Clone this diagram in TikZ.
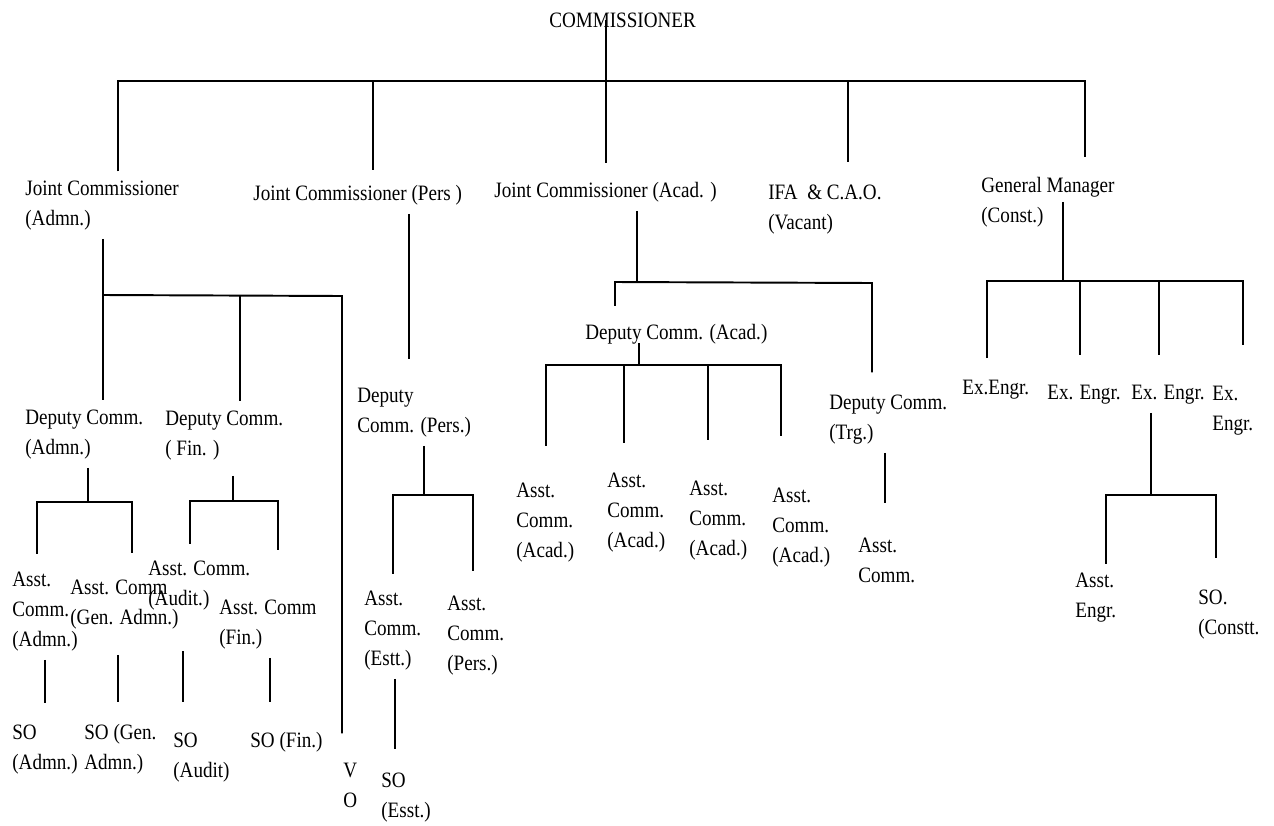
\documentclass[tikz,border=0pt]{standalone}
\usepackage{fontspec}
\setmainfont{Liberation Serif}[FakeStretch=0.87]
\usepackage{tikz}

\begin{document}
\begin{tikzpicture}[x=0.02cm,y=-0.02cm,
  post/.style={anchor=base west,align=left,inner xsep=0pt,inner ysep=5pt,font=\fontsize{12.5}{17}\selectfont},
  link/.style={line width=1.1pt}]
\useasboundingbox (0,0) rectangle (1274,825);

% posts (placed at the baseline of their last line)
\node[post] (comm) at (549,27) {COMMISSIONER};
\node[post] (jcadmn) at (25,225) {Joint Commissioner\\(Admn.)};
\node[post] (jcpers) at (253,200) {Joint Commissioner (Pers )};
\node[post] (jcacad) at (494,197) {Joint Commissioner (Acad. )};
\node[post] (ifa) at (768,229) {IFA\ \ \& C.A.O.\\(Vacant)};
\node[post] (gm) at (981,222) {General Manager\\(Const.)};

\node[post] (dcadmn) at (25,454) {Deputy Comm.\\(Admn.)};
\node[post] (dcfin) at (165,455) {Deputy Comm.\\( Fin. )};
\node[post] (dcpers) at (357,432) {Deputy\\Comm. (Pers.)};
\node[post] (dcacad) at (585,339) {Deputy Comm. (Acad.)};
\node[post] (dctrg) at (829,439) {Deputy Comm.\\(Trg.)};
\node[post] (ee1) at (962,394) {Ex.Engr.};
\node[post] (ee2) at (1047,399) {Ex. Engr.};
\node[post] (ee3) at (1131,399) {Ex. Engr.};
\node[post] (ee4) at (1212,430) {Ex.\\Engr.};

\node[post] (acadmn) at (12,646) {Asst.\\Comm.\\(Admn.)};
\node[post] (acgen) at (70,624) {Asst. Comm\\(Gen. Admn.)};
\node[post] (acaudit) at (148,605) {Asst. Comm.\\(Audit.)};
\node[post] (acfin) at (219,644) {Asst. Comm\\(Fin.)};
\node[post] (acestt) at (364,665) {Asst.\\Comm.\\(Estt.)};
\node[post] (acpers) at (447,670) {Asst.\\Comm.\\(Pers.)};
\node[post] (acacad1) at (516,557) {Asst.\\Comm.\\(Acad.)};
\node[post] (acacad2) at (607,547) {Asst.\\Comm.\\(Acad.)};
\node[post] (acacad3) at (689,555) {Asst.\\Comm.\\(Acad.)};
\node[post] (acacad4) at (772,562) {Asst.\\Comm.\\(Acad.)};
\node[post] (actrg) at (858,582) {Asst.\\Comm.};
\node[post] (ae) at (1075,617) {Asst.\\Engr.};
\node[post] (soconst) at (1198,634) {SO.\\(Constt.};

\node[post] (soadmn) at (12,769) {SO\\(Admn.)};
\node[post] (sogen) at (84,769) {SO (Gen.\\Admn.)};
\node[post] (soaudit) at (173,777) {SO\\(Audit)};
\node[post] (sofin) at (250,747) {SO (Fin.)};
\node[post] (vo) at (343,807) {V\\O};
\node[post] (soestt) at (381,817) {SO\\(Esst.)};

% bars and spines
\coordinate (b0) at (606,81);
\coordinate (b1) at (118,81);
\coordinate (b2) at (373,81);
\coordinate (b4) at (848,81);
\coordinate (b5) at (1085,81);
\coordinate (b6) at (103,295);
\coordinate (b7) at (240,296);
\coordinate (b8) at (342,296);
\coordinate (b9) at (88,501);
\coordinate (b10) at (37,502);
\coordinate (b11) at (132,502);
\coordinate (b12) at (233,501);
\coordinate (b13) at (190,501);
\coordinate (b14) at (278,501);
\coordinate (s1) at (45,680);
\coordinate (s2) at (118,680);
\coordinate (s3) at (183,680);
\coordinate (s4) at (270,680);
\coordinate (s5) at (409,290);
\coordinate (b15) at (424,495);
\coordinate (b16) at (393,495);
\coordinate (b17) at (473,495);
\coordinate (s6) at (395,715);
\coordinate (b18) at (637,282);
\coordinate (b19) at (615,282);
\coordinate (b20) at (872,283);
\coordinate (b21) at (639,365);
\coordinate (b22) at (546,365);
\coordinate (b23) at (781,365);
\coordinate (b24) at (624,365);
\coordinate (b25) at (708,365);
\coordinate (s7) at (885,480);
\coordinate (b26) at (1063,281);
\coordinate (b27) at (987,281);
\coordinate (b28) at (1243,281);
\coordinate (b29) at (1080,281);
\coordinate (b30) at (1159,282);
\coordinate (b31) at (1151,495);
\coordinate (b32) at (1106,495);
\coordinate (b33) at (1216,495);

% commissioner
\draw[link,shorten >=5.5pt] (b0 |- comm.center) -- (b0 |- jcacad.north);
\draw[link,shorten >=6.3pt] (b1 |- jcadmn.north) -- (b1) -- (b5) -- (b5 |- gm.north);
\draw[link,shorten >=3pt] (b2) -- (b2 |- jcpers.north);
\draw[link,shorten >=7.5pt] (b4) -- (b4 |- ifa.north);

% admn
\draw[link] (b6 |- jcadmn.south) -- (b6 |- dcadmn.north);
\draw[link,shorten >=11.5pt] (b6) -- (b8) -- (b8 |- vo.north);
\draw[link] (b7) -- (b7 |- dcfin.north);
\draw[link] (b9 |- dcadmn.south) -- (b9);
\draw[link,shorten <=5pt,shorten >=9.7pt] (b10 |- acadmn.north) -- (b10) -- (b11) -- (b11 |- acgen.north);
\draw[link,shorten <=4pt] (b12 |- dcfin.south) -- (b12);
\draw[link,shorten <=4.5pt,shorten >=22.8pt] (b13 |- acaudit.north) -- (b13) -- (b14) -- (b14 |- acfin.north);
\draw[link,shorten >=7pt] (s1 |- acadmn.south) -- (s1 |- soadmn.north);
\draw[link,shorten <=9.7pt,shorten >=7pt] (s2 |- acgen.south) -- (s2 |- sogen.north);
\draw[link,shorten <=18.4pt,shorten >=12pt] (s3 |- acaudit.south) -- (s3 |- soaudit.north);
\draw[link,shorten >=11.5pt] (s4 |- acfin.south) -- (s4 |- sofin.north);

% pers
\draw[link,shorten >=11pt] (s5 |- jcpers.south) -- (s5 |- dcpers.north);
\draw[link] (b15 |- dcpers.south) -- (b15);
\draw[link,shorten <=4.5pt,shorten >=9pt] (b16 |- acestt.north) -- (b16) -- (b17) -- (b17 |- acpers.north);
\draw[link,shorten >=8.5pt] (s6 |- acestt.south) -- (s6 |- soestt.north);

% acad
\draw[link] (b18 |- jcacad.south) -- (b18);
\draw[link,shorten <=5pt,shorten >=7.5pt] (b19 |- dcacad.north) -- (b19) -- (b20) -- (b20 |- dctrg.north);
\draw[link,shorten <=-5.5pt] (b21 |- dcacad.south) -- (b21);
\draw[link,shorten <=16pt,shorten >=24pt] (b22 |- acacad1.north) -- (b22) -- (b23) -- (b23 |- acacad4.north);
\draw[link,shorten >=11.5pt] (b24) -- (b24 |- acacad2.north);
\draw[link,shorten >=17.8pt] (b25) -- (b25 |- acacad3.north);
\draw[link,shorten >=14.3pt] (s7 |- dctrg.south) -- (s7 |- actrg.north);

% const
\draw[link] (b26 |- gm.east) -- (b26);
\draw[link,shorten <=7pt,shorten >=17.8pt] (b27 |- ee1.north) -- (b27) -- (b28) -- (b28 |- ee4.north);
\draw[link,shorten >=11.5pt] (b29) -- (b29 |- ee2.north);
\draw[link,shorten >=11.5pt] (b30) -- (b30 |- ee3.north);
\draw[link] (b31 |- ee3.south) -- (b31);
\draw[link,shorten >=12.6pt] (b32 |- ae.north) -- (b32) -- (b33) -- (b33 |- soconst.north);
\end{tikzpicture}
\end{document}
